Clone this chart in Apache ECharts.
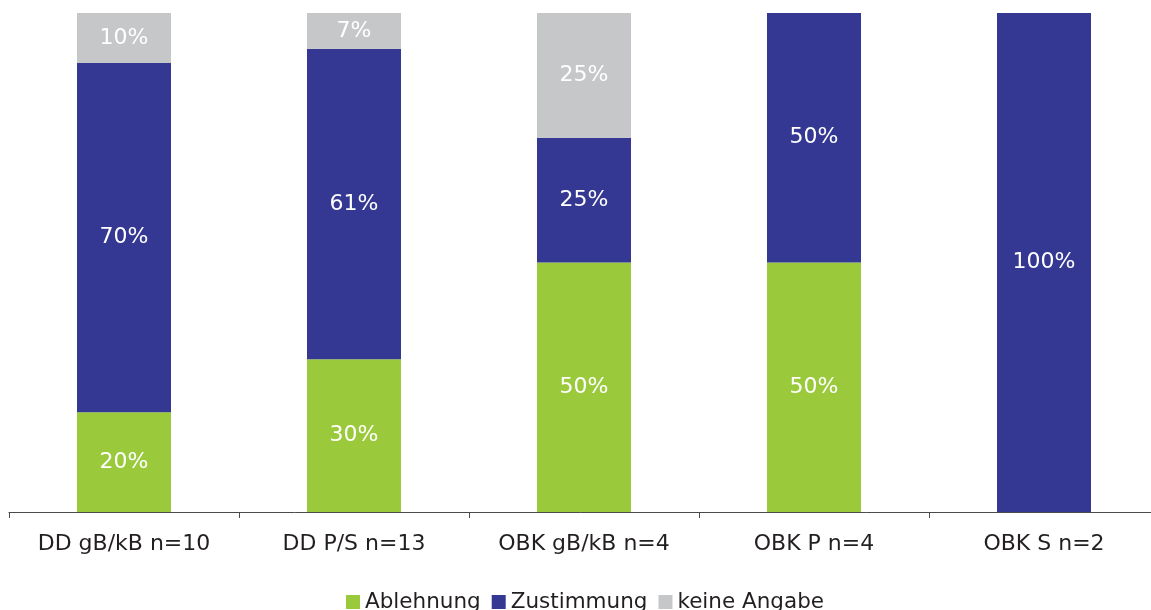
<!DOCTYPE html>
<html>
<head>
<meta charset="utf-8">
<script src="https://cdn.jsdelivr.net/npm/echarts@6/dist/echarts.min.js"></script>
<style>
  html, body { margin: 0; padding: 0; background: #ffffff; }
  #chart { width: 1151px; height: 610px; }
</style>
</head>
<body>
<div id="chart"></div>
<script>
// Gruppen und Antwortanteile in Prozent
const categories = ['DD gB/kB n=10', 'DD P/S n=13', 'OBK gB/kB n=4', 'OBK P n=4', 'OBK S n=2'];
const ablehnung = [20, 30, 50, 50, 0];
const zustimmung = [70, 61, 25, 50, 100];
const keineAngabe = [10, 7, 25, 0, 0];

const seriesNames = ['Ablehnung', 'Zustimmung', 'keine Angabe'];
const seriesValues = [ablehnung, zustimmung, keineAngabe];
const colors = ['#9aca3c', '#343893', '#c6c7c9'];

// each column is scaled to a full 100 % bar; labels keep the stated percentages
const totals = categories.map((_, i) => seriesValues.reduce((s, arr) => s + arr[i], 0));

const FONT = '"DejaVu Sans", sans-serif';

const series = seriesNames.map((name, k) => ({
  name,
  type: 'bar',
  stack: 'anteil',
  barWidth: 94,
  itemStyle: { color: colors[k] },
  data: seriesValues[k].map((v, i) => ({ value: v / totals[i] * 100, raw: v })),
  label: {
    show: true,
    position: 'inside',
    color: '#ffffff',
    fontFamily: FONT,
    fontSize: 22,
    formatter: p => (p.data.raw > 0 ? p.data.raw + '%' : '')
  }
}));

const chart = echarts.init(document.getElementById('chart'), null, { renderer: 'canvas' });
chart.setOption({
  animation: false,
  backgroundColor: '#ffffff',
  color: colors,
  // the last category runs slightly past the right edge of the canvas
  grid: { left: 9, top: 13, width: 1150, bottom: 98, containLabel: false, outerBoundsMode: 'none' },
  xAxis: {
    type: 'category',
    data: categories,
    axisLine: { lineStyle: { color: '#4a4a4a', width: 1 } },
    axisTick: { show: true, length: 6, alignWithLabel: false, lineStyle: { color: '#4a4a4a' } },
    axisLabel: { color: '#231f20', fontFamily: FONT, fontSize: 22, margin: 21 }
  },
  yAxis: {
    type: 'value',
    min: 0,
    max: 100,
    show: false,
    splitLine: { show: false }
  },
  legend: {
    data: seriesNames,
    left: 341,
    top: 586,
    itemWidth: 14,
    itemHeight: 14,
    itemGap: 11,
    icon: 'rect',
    textStyle: { color: '#231f20', fontFamily: FONT, fontSize: 21.5, lineHeight: 22 }
  },
  series
});
</script>
</body>
</html>
